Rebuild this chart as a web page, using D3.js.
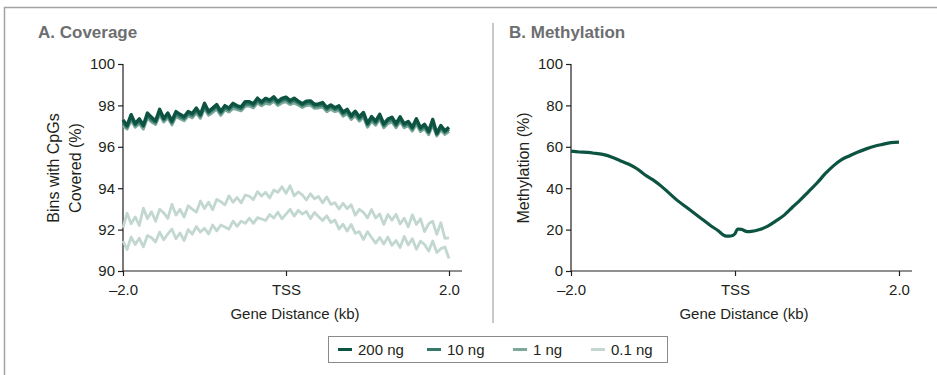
<!DOCTYPE html>
<html><head><meta charset="utf-8">
<script src="https://cdn.jsdelivr.net/npm/d3@7/dist/d3.min.js"></script>
<style>
body{margin:0;background:#fff;}
svg{display:block;font-family:"Liberation Sans",Arial,Helvetica,sans-serif;}
</style></head><body>
<svg id="chart" width="937" height="375"></svg>
<script>
// ---------- data ----------
const xTickValues = [-2, 0, 2];
const xTickLabels = ["\u20132.0", "TSS", "2.0"];
const covTicks = [90, 92, 94, 96, 98, 100];
const methTicks = [0, 20, 40, 60, 80, 100];
const legendLabels = ["200 ng", "10 ng", "1 ng", "0.1 ng"];
const seriesColors = ["#0c5342", "#34796a", "#7ea89a", "#c2d7d0"];

// gene distance (kb) for coverage profiles, -2.0 .. 2.0 in 0.05 steps
const covX = d3.range(81).map(i => +(-2 + i * 0.05).toFixed(2));

const cov200 = [97.3,97.02,97.55,97.12,97.35,97.04,97.63,97.42,97.25,97.81,97.37,97.63,97.25,97.7,97.57,97.45,97.7,97.61,97.87,97.56,98.1,97.71,97.87,98.04,97.71,97.99,97.87,98.1,97.98,97.93,98.18,98.18,98.08,98.35,98.17,98.34,98.26,98.42,98.18,98.34,98.4,98.23,98.35,98.21,98.08,98.2,98.22,98.05,98.07,98.14,97.9,98.02,97.89,97.98,97.67,97.81,97.5,97.72,97.44,97.66,97.13,97.46,97.24,97.57,97.1,97.34,97.43,97.11,97.45,97.11,97.22,96.94,97.35,96.92,97.09,96.75,97.32,96.65,97.03,96.77,96.95];
const cov10 = [97.15,96.95,97.4,97.05,97.22,96.98,97.5,97.3,97.18,97.66,97.3,97.5,97.16,97.58,97.45,97.36,97.6,97.5,97.74,97.48,97.95,97.62,97.78,97.92,97.62,97.88,97.78,97.98,97.9,97.84,98.06,98.08,97.98,98.22,98.08,98.22,98.16,98.3,98.1,98.24,98.28,98.14,98.24,98.12,98.0,98.1,98.12,97.96,97.98,98.02,97.8,97.92,97.8,97.86,97.58,97.7,97.42,97.6,97.34,97.54,97.05,97.35,97.14,97.45,97.02,97.24,97.32,97.02,97.34,97.02,97.12,96.86,97.22,96.84,96.98,96.68,97.18,96.6,96.92,96.7,96.85];
const cov1 = [97.02,96.86,97.28,96.95,97.12,96.86,97.4,97.2,97.08,97.55,97.2,97.4,97.06,97.46,97.36,97.26,97.5,97.4,97.64,97.38,97.85,97.52,97.66,97.82,97.52,97.78,97.68,97.86,97.8,97.74,97.96,97.98,97.88,98.12,97.98,98.1,98.06,98.2,98.0,98.12,98.18,98.04,98.12,98.02,97.9,98.0,98.02,97.86,97.88,97.92,97.7,97.82,97.7,97.76,97.48,97.6,97.32,97.5,97.24,97.44,96.95,97.24,97.04,97.34,96.92,97.12,97.2,96.92,97.22,96.92,97.02,96.76,97.1,96.74,96.88,96.58,97.06,96.52,96.82,96.6,96.75];
const cov01a = [92.1,92.79,92.28,92.61,92.2,93.04,92.53,92.86,92.4,92.98,92.81,92.54,93.22,92.7,92.98,92.61,93.15,92.99,92.84,93.38,93.02,93.32,92.96,93.46,93.35,93.19,93.63,93.32,93.55,93.29,93.67,93.61,93.45,93.83,93.62,93.8,93.53,93.91,93.8,94.07,93.75,94.12,93.63,93.82,93.68,93.43,93.73,93.49,93.6,93.29,93.58,93.22,93.3,92.99,93.27,93.01,93.2,92.69,92.98,92.83,92.57,92.97,92.56,92.75,92.25,92.73,92.46,92.74,92.27,92.55,92.13,92.71,92.25,92.52,91.9,92.28,92.4,91.77,92.33,91.58,91.6];
const cov01b = [91.45,91.04,91.64,91.28,91.58,91.17,91.71,91.61,91.4,91.88,91.51,91.79,92.02,91.56,91.84,91.47,92.0,91.78,92.15,91.88,92.06,91.79,92.22,91.94,92.22,92.12,92.02,92.41,92.16,92.41,92.3,92.55,92.3,92.58,92.51,92.44,92.73,92.56,92.84,92.52,92.75,92.98,92.65,92.93,92.75,92.88,92.53,92.83,92.62,92.44,92.67,92.34,92.46,92.03,92.26,91.93,92.25,91.82,91.9,91.52,91.9,91.62,91.35,91.62,91.3,91.64,91.24,91.48,91.13,91.67,91.26,91.56,91.05,91.44,91.28,90.96,91.45,90.89,91.08,91.16,90.6];

// methylation profile
const methX = [-2.0,-1.9,-1.8,-1.7,-1.6,-1.5,-1.4,-1.3,-1.2,-1.1,-1.0,-0.9,-0.8,-0.7,-0.6,-0.5,-0.4,-0.3,-0.2,-0.15,-0.1,-0.05,0.0,0.03,0.08,0.15,0.2,0.3,0.4,0.5,0.6,0.7,0.8,0.9,1.0,1.1,1.2,1.3,1.4,1.5,1.6,1.7,1.8,1.9,2.0];
const methY = [57.9,57.5,57.3,56.8,56.2,55.0,53.3,51.7,49.5,46.5,44.0,41.0,37.5,34.0,31.0,28.0,25.0,22.0,19.3,17.6,16.8,16.9,18.0,20.3,20.1,19.0,19.1,20.0,21.7,24.2,27.0,30.8,34.5,38.5,42.5,47.0,50.8,53.8,55.7,57.5,59.0,60.3,61.2,62.0,62.3];

// ---------- drawing ----------
const svg = d3.select("#chart");
const ink = "#231f20";
const FS = 15;

// frame and divider
svg.append("path").attr("d", "M4.5,380 V7.5 H940").attr("fill", "none")
  .attr("stroke", "#a3a3a3").attr("stroke-width", 1.5);
svg.append("line").attr("x1", 493).attr("x2", 493).attr("y1", 23).attr("y2", 323)
  .attr("stroke", "#c9c9c9").attr("stroke-width", 2);

function panel(opt) {
  const g = svg.append("g");
  const x = d3.scaleLinear().domain([-2, 2]).range([opt.x0, opt.x1]);
  const y = d3.scaleLinear().domain(opt.yDomain).range([271, 64]);

  g.append("text").attr("x", opt.titleX).attr("y", 38).text(opt.title)
    .attr("font-weight", "bold").attr("font-size", 17).attr("fill", "#6d6e70");

  const xa = g.append("g").attr("transform", "translate(0,271)")
    .call(d3.axisBottom(x).tickValues(xTickValues).tickFormat((d, i) => xTickLabels[i])
      .tickSize(5).tickPadding(8).tickSizeOuter(0));
  const ya = g.append("g").attr("transform", `translate(${opt.x0},0)`)
    .call(d3.axisLeft(y).tickValues(opt.ticks).tickSize(5).tickPadding(3).tickSizeOuter(0));
  [xa, ya].forEach(a => {
    a.select(".domain").remove();
    a.selectAll("line").attr("stroke", ink).attr("stroke-width", 1.2);
    a.selectAll("text").attr("font-size", FS).attr("fill", ink).attr("font-family", "Liberation Sans, Arial, sans-serif");
  });
  g.append("line").attr("x1", opt.x0).attr("x2", opt.x1 + 13).attr("y1", 271).attr("y2", 271)
    .attr("stroke", ink).attr("stroke-width", 1.2);
  g.append("line").attr("x1", opt.x0).attr("x2", opt.x0).attr("y1", 64).attr("y2", 271)
    .attr("stroke", ink).attr("stroke-width", 1.2);

  g.append("text").attr("x", (opt.x0 + opt.x1) / 2 + 9).attr("y", 319).attr("text-anchor", "middle")
    .attr("font-size", FS).attr("fill", ink).text("Gene Distance (kb)");

  opt.yLabel.forEach((t, i) => {
    g.append("text").attr("transform", `translate(${opt.yLabelX[i]},168) rotate(-90)`)
      .attr("text-anchor", "middle").attr("font-size", 16).attr("fill", ink).text(t);
  });
  return {g, x, y};
}

const A = panel({x0: 123, x1: 449, yDomain: [90, 100], ticks: covTicks, title: "A. Coverage", titleX: 38,
  yLabel: ["Bins with CpGs", "Covered (%)"], yLabelX: [59, 81]});
const B = panel({x0: 571, x1: 899, yDomain: [0, 100], ticks: methTicks, title: "B. Methylation", titleX: 509,
  yLabel: ["Methylation (%)"], yLabelX: [529]});

const covSeries = [
  {vals: cov01b, c: seriesColors[3], w: 2.8},
  {vals: cov01a, c: seriesColors[3], w: 2.8},
  {vals: cov1, c: seriesColors[2], w: 3},
  {vals: cov10, c: seriesColors[1], w: 3},
  {vals: cov200, c: seriesColors[0], w: 3.4}
];
const lineA = d3.line().x((d, i) => A.x(covX[i])).y(d => A.y(d));
covSeries.forEach(s => {
  A.g.append("path").datum(s.vals).attr("d", lineA).attr("fill", "none")
    .attr("stroke", s.c).attr("stroke-width", s.w).attr("stroke-linejoin", "round");
});

const lineB = d3.line().x((d, i) => B.x(methX[i])).y(d => B.y(d)).curve(d3.curveMonotoneX);
B.g.append("path").datum(methY).attr("d", lineB).attr("fill", "none")
  .attr("stroke", seriesColors[0]).attr("stroke-width", 3.2).attr("stroke-linejoin", "round");

// legend
const lg = svg.append("g");
lg.append("rect").attr("x", 328.5).attr("y", 336.5).attr("width", 339).attr("height", 26)
  .attr("fill", "#fff").attr("stroke", "#8a8a8a").attr("stroke-width", 1);
const legX = [338, 427, 513, 591];
legendLabels.forEach((t, i) => {
  lg.append("line").attr("x1", legX[i]).attr("x2", legX[i] + 14).attr("y1", 349.5).attr("y2", 349.5)
    .attr("stroke", seriesColors[i]).attr("stroke-width", 3);
  lg.append("text").attr("x", legX[i] + 20).attr("y", 355).attr("font-size", FS).attr("fill", ink).text(t);
});
</script>
</body></html>
